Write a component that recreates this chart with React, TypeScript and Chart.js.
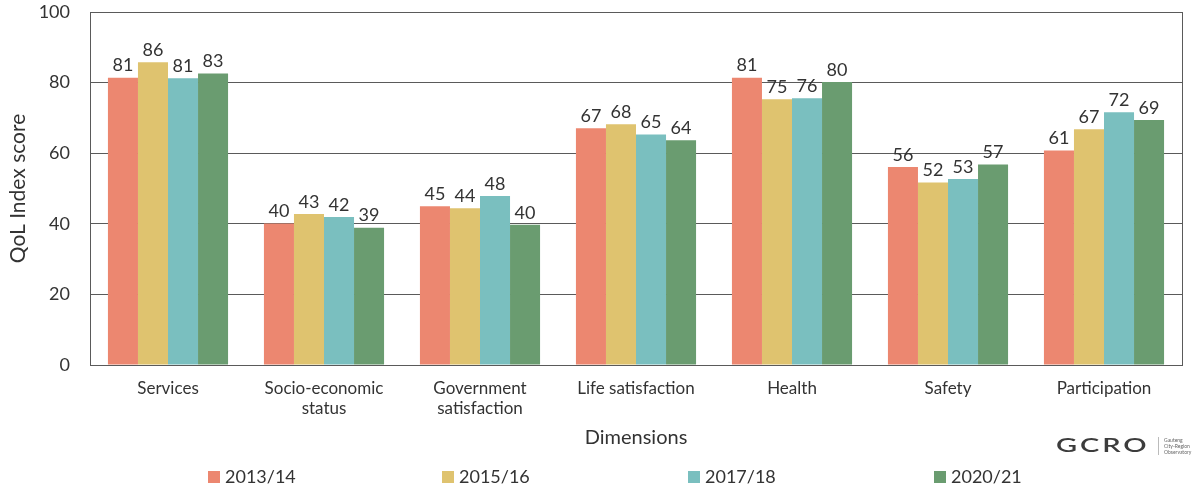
import React, { useEffect, useRef } from "react";
import { Chart, registerables } from "chart.js";

Chart.register(...registerables);

const categories: (string | string[])[] = [
  "Services",
  ["Socio-economic", "status"],
  ["Government", "satisfaction"],
  "Life satisfaction",
  "Health",
  "Safety",
  "Participation",
];

const seriesNames = ["2013/14", "2015/16", "2017/18", "2020/21"];
const s2013 = [81.4, 40.1, 45.0, 67.1, 81.4, 56.1, 60.8];
const s2015 = [85.8, 42.8, 44.4, 68.2, 75.3, 51.7, 66.8];
const s2017 = [81.2, 41.9, 47.9, 65.3, 75.6, 52.7, 71.6];
const s2020 = [82.6, 38.9, 39.7, 63.7, 80.2, 56.8, 69.4];
const colors = ["#EC8770", "#DFC36F", "#7ABFBF", "#6A9C70"];
const yTicks = [0, 20, 40, 60, 80, 100];

const FONT = "Lato, 'Noto Sans', sans-serif";
const TEXT = "#333333";
const LINE = "#5a5a5a";

const extrasPlugin = {
  id: "extras",
  afterDatasetsDraw(chart: any) {
    const ctx = chart.ctx;
    ctx.save();
    ctx.font = `18px ${FONT}`;
    ctx.fillStyle = TEXT;
    ctx.textAlign = "center";
    ctx.textBaseline = "bottom";
    chart.data.datasets.forEach((ds: any, di: number) => {
      const meta = chart.getDatasetMeta(di);
      meta.data.forEach((el: any, i: number) => {
        ctx.fillText(String(Math.round(ds.data[i])), el.x, el.y - 3);
      });
    });
    ctx.restore();
  },
  afterDraw(chart: any) {
    const ctx = chart.ctx;
    const a = chart.chartArea;
    ctx.save();
    ctx.strokeStyle = LINE;
    ctx.lineWidth = 1;
    ctx.strokeRect(Math.round(a.left) + 0.5, Math.round(a.top) + 0.5, Math.round(a.right - a.left), Math.round(a.bottom - a.top));
    // legend
    const starts = [208, 442, 688, 934];
    const ly = 477;
    ctx.font = `18px ${FONT}`;
    ctx.textBaseline = "middle";
    ctx.textAlign = "left";
    seriesNames.forEach((n, i) => {
      ctx.fillStyle = colors[i];
      ctx.fillRect(starts[i], ly - 6, 12, 12);
      ctx.fillStyle = TEXT;
      ctx.fillText(n, starts[i] + 17, ly);
    });
    // logo
    ctx.save();
    ctx.fillStyle = "#3c3c3c";
    ctx.font = `600 20px ${FONT}`;
    ctx.translate(1056, 446);
    ctx.scale(1.45, 1);
    (ctx as any).letterSpacing = "2px";
    ctx.fillText("GCRO", 0, 0);
    ctx.restore();
    ctx.fillStyle = "#bbbbbb";
    ctx.fillRect(1158, 437, 1, 18);
    ctx.fillStyle = "#666";
    ctx.font = `5px ${FONT}`;
    ctx.fillText("Gauteng", 1164, 440);
    ctx.fillText("City-Region", 1164, 446);
    ctx.fillText("Observatory", 1164, 452);
    ctx.restore();
  },
};

export default function App() {
  const ref = useRef<HTMLCanvasElement>(null);
  useEffect(() => {
    if (!ref.current) return;
    const datasets = [s2013, s2015, s2017, s2020].map((d, i) => ({
      label: seriesNames[i],
      data: d,
      backgroundColor: colors[i],
      borderWidth: 0,
      barPercentage: 1,
      categoryPercentage: 0.77,
    }));
    const chart = new Chart(ref.current, {
      type: "bar",
      data: { labels: categories, datasets },
      plugins: [extrasPlugin],
      options: {
        animation: false,
        responsive: false,
        maintainAspectRatio: false,
        layout: { padding: { top: 12, right: 12, left: 0, bottom: 40 } },
        plugins: { legend: { display: false }, tooltip: { enabled: false } },
        scales: {
          x: {
            grid: { display: false, drawTicks: false },
            border: { display: false },
            ticks: { color: TEXT, font: { family: FONT, size: 17 }, padding: 13, maxRotation: 0, autoSkip: false },
            title: { display: true, text: "Dimensions", color: TEXT, font: { family: FONT, size: 20 }, padding: { top: 4, bottom: 2 } },
            afterFit: (s: any) => { s.height = 87; s.paddingLeft = 0; s.paddingRight = 0; },
          },
          y: {
            min: 0,
            max: 100,
            afterBuildTicks: (s: any) => { s.ticks = yTicks.map((v) => ({ value: v })); },
            grid: { color: LINE, drawTicks: false, lineWidth: 1 },
            border: { display: false },
            ticks: { color: TEXT, font: { family: FONT, size: 18 }, padding: 20 },
            title: { display: true, text: "QoL Index score", color: TEXT, font: { family: FONT, size: 21 }, padding: { top: 6, bottom: 0 } },
            afterFit: (s: any) => { s.width = 90; s.paddingTop = 0; s.paddingBottom = 0; },
          },
        },
      },
    });
    return () => chart.destroy();
  }, []);
  return (
    <div style={{ position: "fixed", left: 0, top: 0, width: 1194, height: 492, background: "#fff" }}>
      <canvas ref={ref} width={1194} height={492} style={{ width: 1194, height: 492 }} />
    </div>
  );
}
